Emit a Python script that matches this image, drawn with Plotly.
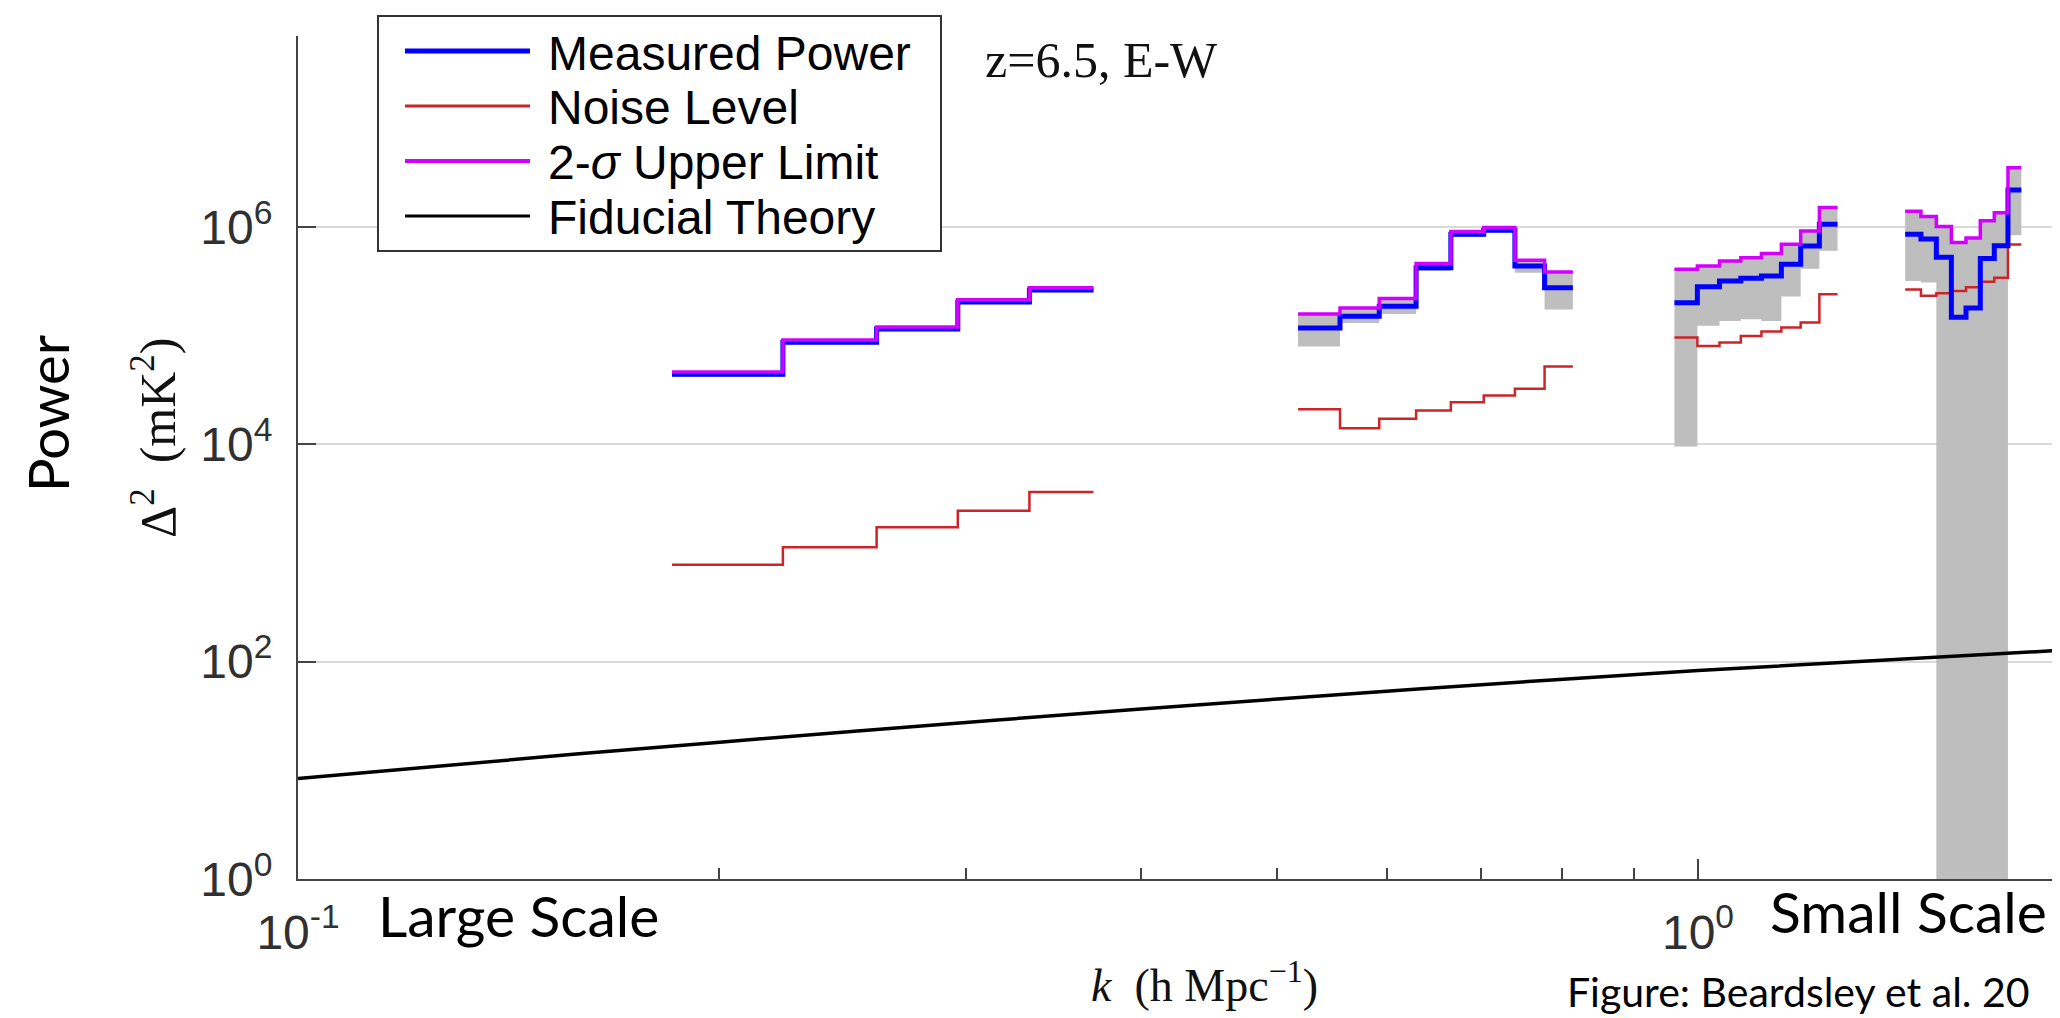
import plotly.graph_objects as go

# ---------------- data ----------------
# k-bin edges (h Mpc^-1) for the four measured segments
seg1_edges = [0.185, 0.222, 0.259, 0.296, 0.333, 0.370]
seg2_edges = [0.518, 0.555, 0.592, 0.629, 0.666, 0.703, 0.740, 0.777, 0.814]
seg3_edges = [0.962, 0.999, 1.036, 1.073, 1.110, 1.147, 1.184, 1.221, 1.258]
seg4_edges = [1.406, 1.443, 1.480, 1.517, 1.554, 1.591, 1.628, 1.665, 1.702]

# measured power (mK^2)
seg1_meas = [4.42e4, 8.71e4, 1.148e5, 2.04e5, 2.63e5]
seg2_meas = [1.178e5, 1.507e5, 1.866e5, 4.22e5, 8.55e5, 9.31e5, 4.37e5, 2.75e5]
seg3_meas = [2.01e5, 2.81e5, 3.18e5, 3.37e5, 3.54e5, 4.53e5, 6.68e5, 1.059e6]
seg4_meas = [8.57e5, 7.76e5, 5.25e5, 1.479e5, 1.80e5, 5.13e5, 6.73e5, 2.19e6]

# 2-sigma upper limit
seg1_upper = [4.62e4, 9.12e4, 1.202e5, 2.14e5, 2.75e5]
seg2_upper = [1.585e5, 1.80e5, 2.20e5, 4.62e5, 9.06e5, 9.86e5, 4.95e5, 3.85e5]
seg3_upper = [4.07e5, 4.38e5, 4.86e5, 5.22e5, 5.69e5, 6.92e5, 9.18e5, 1.507e6]
seg4_upper = [1.396e6, 1.250e6, 1.012e6, 7.19e5, 7.91e5, 1.143e6, 1.349e6, 3.51e6]

# lower edge of the grey error band (0.01 = unbounded below the axis)
seg1_lower = [4.17e4, 8.32e4, 1.096e5, 1.95e5, 2.51e5]
seg2_lower = [7.94e4, 1.309e5, 1.585e5, 3.93e5, 8.09e5, 8.87e5, 3.78e5, 1.738e5]
seg3_lower = [9.55e3, 1.23e5, 1.365e5, 1.413e5, 1.365e5, 2.29e5, 4.12e5, 6.03e5]
seg4_lower = [3.18e5, 3.08e5, 0.01, 0.01, 0.01, 0.01, 0.01, 8.38e5]

# noise level
seg1_noise = [778, 1127, 1722, 2449, 3639]
seg2_noise = [2.10e4, 1.406e4, 1.714e4, 2.05e4, 2.44e4, 2.81e4, 3.24e4, 5.21e4]
seg3_noise = [9.59e4, 8.04e4, 8.63e4, 9.93e4, 1.089e5, 1.186e5, 1.318e5, 2.40e5]
seg4_noise = [2.65e5, 2.33e5, 2.45e5, 2.57e5, 2.79e5, 3.13e5, 3.41e5, 6.89e5]

# fiducial theory curve
theory_k = [0.1, 0.158, 0.251, 0.398, 0.631, 1.0, 1.837]
theory_p = [8.4, 14.1, 23.0, 36.5, 56.0, 83.0, 128.0]

x_tickvals = [0.1, 1]
x_ticktext = ["10<sup>-1</sup>", "10<sup>0</sup>"]
x_minor = [0.2, 0.3, 0.4, 0.5, 0.6, 0.7, 0.8, 0.9]
y_tickvals = [1, 1e2, 1e4, 1e6]
y_ticktext = ["10<sup>0</sup>", "10<sup>2</sup>", "10<sup>4</sup>", "10<sup>6</sup>"]

legend_names = ["Measured Power", "Noise Level", "2-<i>σ</i> Upper Limit", "Fiducial Theory"]

# ---------------- style ----------------
BLUE = "#0000ff"
RED = "#cc2529"
MAG = "#d400ff"
GREY = "#bebebe"
BLACK = "#000000"

segments = [
    (seg1_edges, seg1_meas, seg1_upper, seg1_lower, seg1_noise),
    (seg2_edges, seg2_meas, seg2_upper, seg2_lower, seg2_noise),
    (seg3_edges, seg3_meas, seg3_upper, seg3_lower, seg3_noise),
    (seg4_edges, seg4_meas, seg4_upper, seg4_lower, seg4_noise),
]


def stepy(v):
    return list(v) + [v[-1]]


fig = go.Figure()

# grey bands
for edges, meas, up, lo, noise in segments:
    fig.add_trace(go.Scatter(x=edges, y=stepy(lo), mode="lines", line=dict(width=0, shape="hv"),
                             showlegend=False, hoverinfo="skip"))
    fig.add_trace(go.Scatter(x=edges, y=stepy(up), mode="lines", line=dict(width=0, shape="hv"),
                             fill="tonexty", fillcolor=GREY, showlegend=False, hoverinfo="skip"))

# theory
fig.add_trace(go.Scatter(x=theory_k, y=theory_p, mode="lines", name="Fiducial Theory",
                         line=dict(color=BLACK, width=3.5, shape="spline", smoothing=0.6),
                         showlegend=False))

for edges, meas, up, lo, noise in segments:
    fig.add_trace(go.Scatter(x=edges, y=stepy(noise), mode="lines", name="Noise Level",
                             line=dict(color=RED, width=2.5, shape="hv"), showlegend=False))
for edges, meas, up, lo, noise in segments:
    fig.add_trace(go.Scatter(x=edges, y=stepy(meas), mode="lines", name="Measured Power",
                             line=dict(color=BLUE, width=5, shape="hv"), showlegend=False))
for edges, meas, up, lo, noise in segments:
    fig.add_trace(go.Scatter(x=edges, y=stepy(up), mode="lines", name="2-σ Upper Limit",
                             line=dict(color=MAG, width=3.5, shape="hv"), showlegend=False))

# ---------------- layout ----------------
L, R, T, B = 290, 2060, 28, 871
W, H = 2060, 1018


def px(x):
    return (x - L) / (R - L)


def py(y):
    return (B - y) / (B - T)


shapes = []
annotations = []

# legend box
shapes.append(dict(type="rect", xref="paper", yref="paper", x0=px(370), x1=px(933),
                   y0=py(243), y1=py(8), line=dict(color="#333333", width=2),
                   fillcolor="white", layer="above"))
leg_rows = [43, 98, 153, 208]
leg_colors = [BLUE, RED, MAG, BLACK]
leg_widths = [5, 3, 4, 3]
for name, row, col, lw in zip(legend_names, leg_rows, leg_colors, leg_widths):
    shapes.append(dict(type="line", xref="paper", yref="paper", x0=px(397), x1=px(522),
                       y0=py(row), y1=py(row), line=dict(color=col, width=lw), layer="above"))
    annotations.append(dict(xref="paper", yref="paper", x=px(538), y=py(row + 2), text=name,
                            showarrow=False, xanchor="left", yanchor="middle",
                            font=dict(family="Liberation Sans, Arial", size=48, color="black")))

serif = "Liberation Serif, Times New Roman, serif"
sans2 = "Lato, Open Sans, sans-serif"
annotations += [
    dict(xref="paper", yref="paper", x=px(975), y=py(52), text="z=6.5,\u00a0E-W", showarrow=False,
         xanchor="left", yanchor="middle", font=dict(family=serif, size=50, color="#111")),
    dict(xref="paper", yref="paper", x=px(146), y=py(430), text="Δ<sup>2</sup>\u00a0\u00a0(mK<sup>2</sup>)",
         showarrow=False, textangle=-90, xanchor="center", yanchor="middle",
         font=dict(family=serif, size=50, color="#111")),
    dict(xref="paper", yref="paper", x=px(1196), y=py(974), text="<i>k</i>\u00a0\u00a0(h\u00a0Mpc<sup>−1</sup>)",
         showarrow=False, xanchor="center", yanchor="middle",
         font=dict(family=serif, size=46, color="#111")),
    dict(xref="paper", yref="paper", x=px(39), y=py(406), text="Power", showarrow=False,
         textangle=-90, xanchor="center", yanchor="middle",
         font=dict(family=sans2, size=56, color="black")),
    dict(xref="paper", yref="paper", x=px(368), y=py(907), text="Large Scale", showarrow=False,
         xanchor="left", yanchor="middle", font=dict(family=sans2, size=57, color="black")),
    dict(xref="paper", yref="paper", x=px(1760), y=py(903), text="Small Scale", showarrow=False,
         xanchor="left", yanchor="middle", font=dict(family=sans2, size=57, color="black")),
    dict(xref="paper", yref="paper", x=px(1557), y=py(984), text="Figure: Beardsley et al. 20",
         showarrow=False, xanchor="left", yanchor="middle", font=dict(family=sans2, size=41, color="black")),
]

tickfont = dict(family="Liberation Sans, Arial", size=48, color="#303030")

fig.update_layout(
    width=W, height=H, autosize=False,
    margin=dict(l=L, r=W - R, t=T, b=H - B, pad=0),
    paper_bgcolor="white", plot_bgcolor="white",
    showlegend=False,
    shapes=shapes, annotations=annotations,
    xaxis=dict(type="log", range=[-1, 0.2643], showgrid=False, zeroline=False,
               showline=True, linecolor="#444444", linewidth=2, mirror=False,
               ticks="inside", ticklen=20, tickwidth=1.5, tickcolor="#444444",
               tickvals=x_tickvals, ticktext=x_ticktext, ticklabelstandoff=10,
               tickfont=tickfont,
               minor=dict(tickvals=x_minor, ticks="inside", ticklen=11, tickwidth=1.5,
                          tickcolor="#444444", showgrid=False)),
    yaxis=dict(type="log", range=[0, 7.757], showgrid=True, gridcolor="#d9d9d9", gridwidth=2,
               zeroline=False, showline=True, linecolor="#444444", linewidth=2, mirror=False,
               ticks="inside", ticklen=18, tickwidth=1.5, tickcolor="#444444",
               tickvals=y_tickvals, ticktext=y_ticktext, ticklabelstandoff=14,
               tickfont=tickfont),
)

fig.write_html("out.html")
